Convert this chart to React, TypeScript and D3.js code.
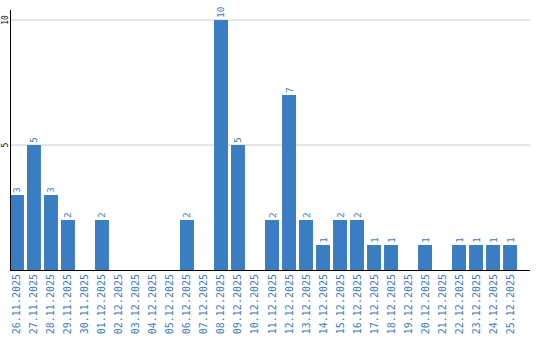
import React from "react";
import * as d3 from "d3";

const categories = [
  "26.11.2025", "27.11.2025", "28.11.2025", "29.11.2025", "30.11.2025",
  "01.12.2025", "02.12.2025", "03.12.2025", "04.12.2025", "05.12.2025",
  "06.12.2025", "07.12.2025", "08.12.2025", "09.12.2025", "10.12.2025",
  "11.12.2025", "12.12.2025", "13.12.2025", "14.12.2025", "15.12.2025",
  "16.12.2025", "17.12.2025", "18.12.2025", "19.12.2025", "20.12.2025",
  "21.12.2025", "22.12.2025", "23.12.2025", "24.12.2025", "25.12.2025",
];
const values = [3, 5, 3, 2, 0, 2, 0, 0, 0, 0, 2, 0, 10, 5, 0, 2, 7, 2, 1, 2, 2, 1, 1, 0, 1, 0, 1, 1, 1, 1];
const yTicks = [5, 10];

const W = 540;
const H = 340;
const BLUE = "#3a7dc2";
const FONT = "'DejaVu Sans Mono', monospace";

export default function App() {
  const x = d3.scaleBand<string>().domain(categories).range([10, 517]).paddingInner(0.18).paddingOuter(0);
  const y = d3.scaleLinear().domain([0, 10]).range([270, 20]);
  return (
    <svg width={W} height={H} style={{ position: "absolute", left: 0, top: 0, background: "#fff" }}>
      {yTicks.map((t) => (
        <g key={t}>
          <line x1={10} x2={530} y1={y(t)} y2={y(t)} stroke="#cccccc" strokeWidth={1} />
          <text
            transform={`translate(8,${y(t)}) rotate(-90)`}
            textAnchor="middle"
            fontFamily={FONT}
            fontSize={8}
            fill="#000"
          >
            {t}
          </text>
        </g>
      ))}
      {categories.map((c, i) => {
        const v = values[i];
        const bx = x(c)!;
        const bw = x.bandwidth();
        return (
          <g key={c}>
            {v > 0 && <rect x={bx} y={y(v)} width={bw} height={y(0) - y(v)} fill={BLUE} />}
            {v > 0 && (
              <text
                transform={`translate(${bx + bw / 2 + 3.5},${y(v) - 2}) rotate(-90)`}
                textAnchor="start"
                fontFamily={FONT}
                fontSize={9.5}
                fill={BLUE}
              >
                {v}
              </text>
            )}
            <text
              transform={`translate(${bx + bw / 2 + 3.5},274) rotate(-90)`}
              textAnchor="end"
              fontFamily={FONT}
              fontSize={10}
              fill={BLUE}
            >
              {c}
            </text>
          </g>
        );
      })}
      <line x1={10.5} x2={10.5} y1={10} y2={270} stroke="#000" strokeWidth={1} />
      <line x1={10} x2={530} y1={270.5} y2={270.5} stroke="#000" strokeWidth={1} />
    </svg>
  );
}
